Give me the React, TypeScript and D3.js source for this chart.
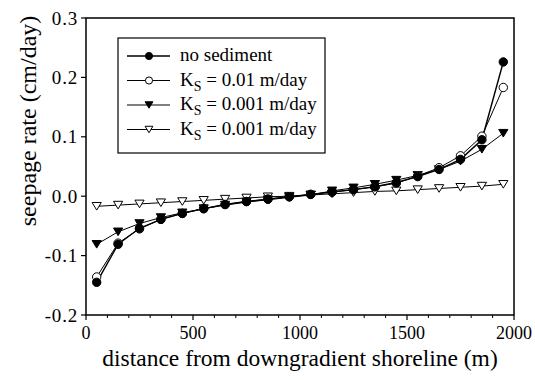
import React from "react";
import * as d3 from "d3";

// Distance from the downgradient shoreline (m)
const distances = [50, 150, 250, 350, 450, 550, 650, 750, 850, 950, 1050, 1150, 1250, 1350, 1450, 1550, 1650, 1750, 1850, 1950];

// Seepage rate (cm/day) for each case
const noSediment = [-0.145, -0.081, -0.054, -0.039, -0.029, -0.021, -0.014, -0.009, -0.005, -0.001, 0.003, 0.007, 0.011, 0.016, 0.023, 0.033, 0.045, 0.062, 0.095, 0.226];
const ks001 = [-0.136, -0.079, -0.055, -0.039, -0.029, -0.021, -0.014, -0.009, -0.005, -0.001, 0.003, 0.007, 0.011, 0.016, 0.022, 0.034, 0.048, 0.068, 0.101, 0.183];
const ks0001 = [-0.081, -0.060, -0.046, -0.036, -0.028, -0.021, -0.015, -0.010, -0.006, -0.002, 0.002, 0.009, 0.014, 0.020, 0.027, 0.035, 0.045, 0.059, 0.079, 0.106];
const ks0001b = [-0.017, -0.015, -0.013, -0.011, -0.009, -0.007, -0.005, -0.003, -0.001, 0.000, 0.002, 0.004, 0.006, 0.008, 0.009, 0.011, 0.013, 0.015, 0.017, 0.020];

const xTicks = [0, 500, 1000, 1500, 2000];
const xMinorTicks = [100, 200, 300, 400, 600, 700, 800, 900, 1100, 1200, 1300, 1400, 1600, 1700, 1800, 1900];
const yTicks = [-0.2, -0.1, 0.0, 0.1, 0.2, 0.3];

type Marker = "circleFilled" | "circleOpen" | "triDownFilled" | "triDownOpen";

const series: { label: string; sub?: string; rest?: string; values: number[]; marker: Marker; width: number }[] = [
  { label: "no sediment", values: noSediment, marker: "circleFilled", width: 1.4 },
  { label: "K", sub: "S", rest: " = 0.01 m/day", values: ks001, marker: "circleOpen", width: 1 },
  { label: "K", sub: "S", rest: " = 0.001 m/day", values: ks0001, marker: "triDownFilled", width: 1 },
  { label: "K", sub: "S", rest: " = 0.001 m/day", values: ks0001b, marker: "triDownOpen", width: 1 },
];

const W = 535;
const H = 380;
const margin = { left: 86, right: 21, top: 18, bottom: 65 };
const FONT = '"Liberation Serif", "DejaVu Serif", Tinos, "Times New Roman", serif';

function MarkerShape({ kind, x, y, scale = 1 }: { kind: Marker; x: number; y: number; scale?: number }) {
  const fill = kind === "circleFilled" || kind === "triDownFilled" ? "#000" : "#fff";
  if (kind === "circleFilled" || kind === "circleOpen") {
    return <circle cx={x} cy={y} r={4.2 * scale} fill={fill} stroke="#000" strokeWidth={1} />;
  }
  const hw = 4.6 * scale;
  const hh = 3.8 * scale;
  const d = `M${x - hw},${y - hh}L${x + hw},${y - hh}L${x},${y + hh}Z`;
  return <path d={d} fill={fill} stroke="#000" strokeWidth={1} strokeLinejoin="miter" />;
}

export default function App() {
  const x = d3.scaleLinear().domain([0, 2000]).range([margin.left, W - margin.right]);
  const y = d3.scaleLinear().domain([-0.2, 0.3]).range([H - margin.bottom, margin.top]);

  const line = d3
    .line<number>()
    .x((_, i) => x(distances[i]))
    .y((v) => y(v));

  const [x0, x1] = x.range();
  const [y0, y1] = y.range();

  // legend layout
  const lg = { x: 118, y: 38, w: 207, h: 115 };
  const rowY = [56, 80.5, 105, 129.5];
  const textStyle = { fontFamily: FONT };

  return (
    <svg
      width={W}
      height={H}
      style={{ position: "absolute", left: 0, top: 0, background: "#fff", fontFamily: FONT }}
    >
      <rect x={0} y={0} width={W} height={H} fill="#fff" />

      {/* series lines, drawn back to front */}
      {[...series].reverse().map((s, k) => (
        <path key={`l${k}`} d={line(s.values) ?? ""} fill="none" stroke="#000" strokeWidth={s.width} />
      ))}
      {[...series].reverse().map((s, k) => (
        <g key={`m${k}`}>
          {s.values.map((v, i) => (
            <MarkerShape key={i} kind={s.marker} x={x(distances[i])} y={y(v)} />
          ))}
        </g>
      ))}

      {/* frame */}
      <rect x={x0} y={y1} width={x1 - x0} height={y0 - y1} fill="none" stroke="#000" strokeWidth={1.5} />

      {/* x axis ticks */}
      {xTicks.map((t) => (
        <g key={`xt${t}`}>
          <line x1={x(t)} x2={x(t)} y1={y0} y2={y0 + 5} stroke="#000" strokeWidth={1.2} />
          <text x={x(t)} y={y0 + 24} fontSize={18} textAnchor="middle" fill="#000" style={textStyle}>
            {t}
          </text>
        </g>
      ))}
      {xMinorTicks.map((t) => (
        <line key={`xm${t}`} x1={x(t)} x2={x(t)} y1={y0} y2={y0 + 3} stroke="#000" strokeWidth={1} />
      ))}

      {/* y axis ticks */}
      {yTicks.map((t) => (
        <g key={`yt${t}`}>
          <line x1={x0 - 5} x2={x0} y1={y(t)} y2={y(t)} stroke="#000" strokeWidth={1.2} />
          <text
            x={x0 - 8}
            y={y(t)}
            dy="0.35em"
            fontSize={19}
            textAnchor="end"
            letterSpacing={0.8}
            fill="#000"
            style={textStyle}
          >
            {d3.format(".1f")(t).replace("−", "-")}
          </text>
        </g>
      ))}

      {/* axis titles */}
      <text x={(x0 + x1) / 2} y={366} fontSize={23.5} textAnchor="middle" fill="#000" style={textStyle}>
        distance from downgradient shoreline (m)
      </text>
      <text
        transform={`translate(36,121) rotate(-90)`}
        fontSize={24}
        textAnchor="middle"
        fill="#000"
        style={textStyle}
      >
        seepage rate (cm/day)
      </text>

      {/* legend */}
      <rect x={lg.x} y={lg.y} width={lg.w} height={lg.h} fill="#fff" stroke="#000" strokeWidth={1.2} />
      {series.map((s, i) => (
        <g key={`lg${i}`}>
          <line x1={127} x2={170} y1={rowY[i]} y2={rowY[i]} stroke="#000" strokeWidth={s.width} />
          <MarkerShape kind={s.marker} x={149} y={rowY[i]} scale={0.85} />
          <text x={180} y={rowY[i] + 5} fontSize={19} fill="#000" style={textStyle}>
            {s.label}
            {s.sub && (
              <tspan fontSize={14} dy={5}>
                {s.sub}
              </tspan>
            )}
            {s.rest && <tspan dy={-5}>{s.rest}</tspan>}
          </text>
        </g>
      ))}
    </svg>
  );
}
